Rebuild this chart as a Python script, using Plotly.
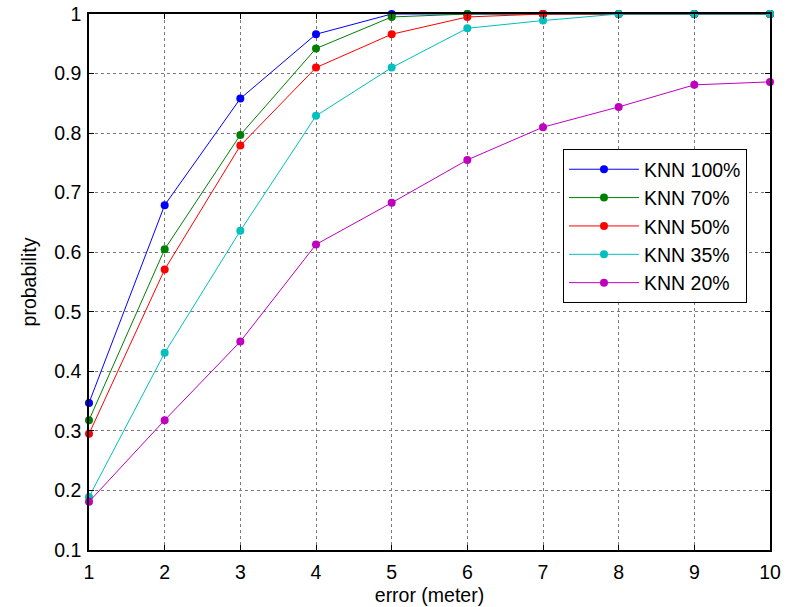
import plotly.graph_objects as go

errors = [1, 2, 3, 4, 5, 6, 7, 8, 9, 10]
knn100 = [0.347, 0.679, 0.858, 0.966, 1.0, 1.0, 1.0, 1.0, 1.0, 1.0]
knn70 = [0.318, 0.605, 0.797, 0.942, 0.995, 1.0, 1.0, 1.0, 1.0, 1.0]
knn50 = [0.295, 0.571, 0.779, 0.910, 0.966, 0.995, 1.0, 1.0, 1.0, 1.0]
knn35 = [0.189, 0.431, 0.636, 0.829, 0.910, 0.976, 0.989, 1.0, 1.0, 1.0]
knn20 = [0.181, 0.318, 0.450, 0.613, 0.683, 0.755, 0.810, 0.844, 0.881, 0.886]

series = [
    ("KNN 100%", knn100, "#0000FF"),
    ("KNN 70%", knn70, "#008000"),
    ("KNN 50%", knn50, "#FF0000"),
    ("KNN 35%", knn35, "#00BFBF"),
    ("KNN 20%", knn20, "#BF00BF"),
]
x_ticks = [1, 2, 3, 4, 5, 6, 7, 8, 9, 10]
y_ticks = [0.1, 0.2, 0.3, 0.4, 0.5, 0.6, 0.7, 0.8, 0.9, 1]
y_ticktext = ["0.1", "0.2", "0.3", "0.4", "0.5", "0.6", "0.7", "0.8", "0.9", "1"]

fig = go.Figure()
for name, vals, color in series:
    fig.add_trace(go.Scatter(
        x=errors, y=vals, name=name, mode="lines+markers",
        line=dict(color=color, width=1),
        marker=dict(color=color, size=8),
        cliponaxis=False,
    ))

font = "Liberation Sans, Arial, sans-serif"
axis_common = dict(
    showline=True, linecolor="black", linewidth=1.5, mirror="ticks",
    ticks="inside", ticklen=5, tickcolor="black", tickwidth=1,
    showgrid=True, gridcolor="#7a7a7a", griddash="dot", gridwidth=1,
    zeroline=False, automargin=False,
    tickfont=dict(family=font, size=19.5, color="black"),
)
fig.update_xaxes(range=[1, 10], tickvals=x_ticks, ticklabelstandoff=4,
                 title=dict(text="error (meter)", font=dict(family=font, size=19.5, color="black"), standoff=6),
                 **axis_common)
fig.update_yaxes(range=[0.1, 1], tickvals=y_ticks, ticktext=y_ticktext, ticklabelstandoff=2,
                 title=dict(text="probability", font=dict(family=font, size=19.5, color="black"), standoff=12),
                 **axis_common)
fig.update_layout(
    width=790, height=607,
    margin=dict(l=89, r=20, t=14, b=57),
    plot_bgcolor="white", paper_bgcolor="white",
    font=dict(family=font, size=19.5, color="black"),
    legend=dict(x=0.696, y=0.748, xanchor="left", yanchor="top",
                bgcolor="white", bordercolor="black", borderwidth=1,
                font=dict(family=font, size=19.5, color="black"),
                itemwidth=70, entrywidth=163, tracegroupgap=0),
    showlegend=True,
)
fig.write_html("out.html", config={"displayModeBar": False},
               post_script="document.body.style.margin='0';")
